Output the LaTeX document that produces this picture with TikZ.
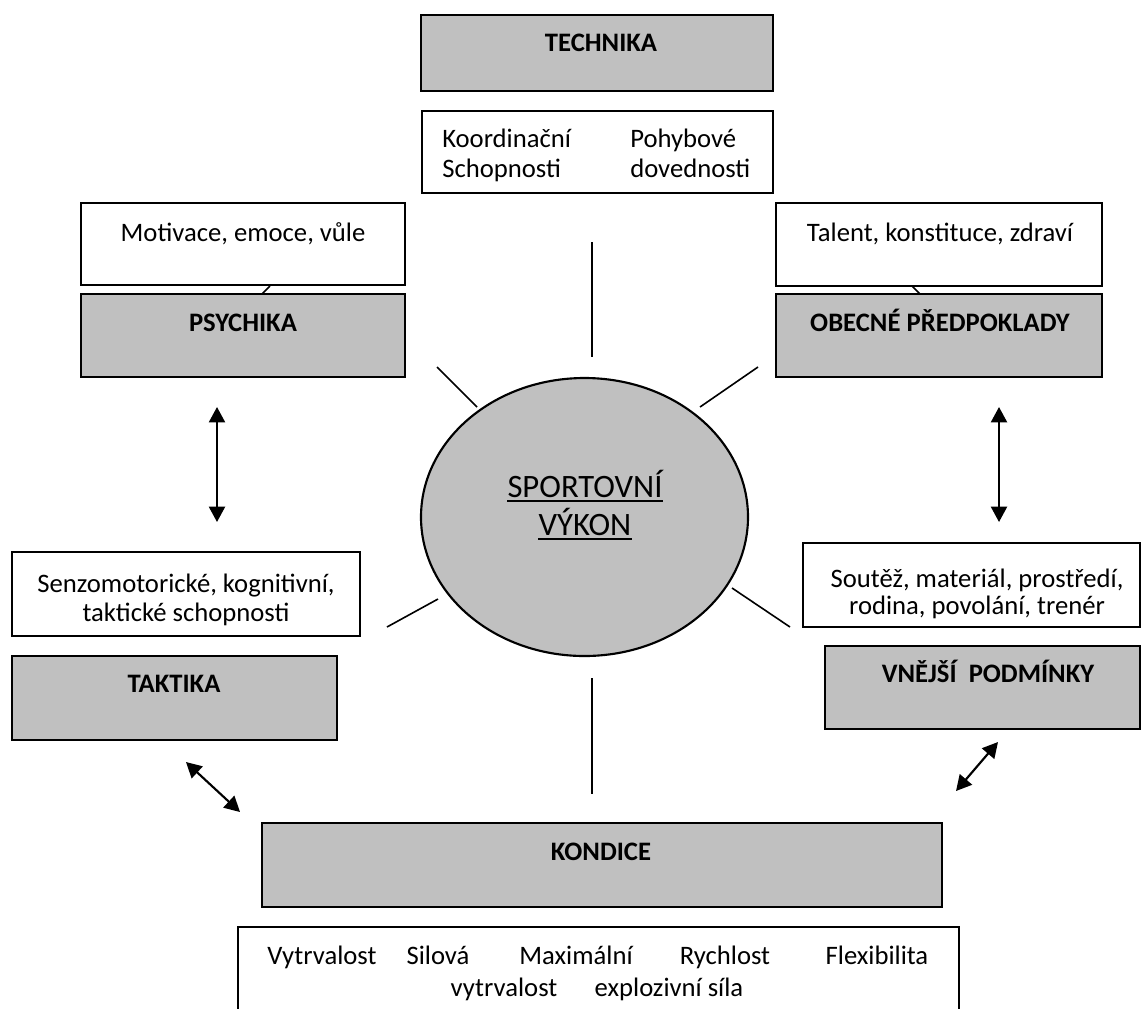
\documentclass[tikz,border=0pt]{standalone}
\usepackage{fontspec}
\setmainfont{Carlito}
\usetikzlibrary{arrows.meta,fit,shapes.geometric}
\definecolor{boxgray}{HTML}{C0C0C0}
\begin{document}
\begin{tikzpicture}[x=0.75pt,y=-0.75pt,
  graybox/.style={draw=black, line width=0.9pt, fill=boxgray, rectangle, inner sep=0pt},
  whitebox/.style={draw=black, line width=0.9pt, fill=white, rectangle, inner sep=0pt},
  txt/.style={inner sep=0pt, font=\fontsize{20}{24}\selectfont},
  head/.style={inner sep=0pt, font=\fontsize{20}{24}\selectfont\bfseries},
  ray/.style={line width=1.2pt},
  dblarrow/.style={line width=1.6pt, {Triangle[length=11.5pt,width=12pt]}-{Triangle[length=11.5pt,width=12pt]}}
]
\useasboundingbox (0,0) rectangle (1141,1008);

% ---- boxes ----
\node[graybox, fit={(421,15) (773,91)}] (techn) {};
\node[whitebox, fit={(422,111) (773,193)}] (koord) {};
\node[whitebox, fit={(81,203) (405,285)}] (motiv) {};
\node[graybox, fit={(81,294) (405,377)}] (psych) {};
\node[whitebox, fit={(776,203) (1102,286)}] (talent) {};
\node[graybox, fit={(776,294) (1102,377)}] (obecne) {};
\node[whitebox, fit={(12,552) (360,636)}] (senzo) {};
\node[graybox, fit={(12,656) (337,740)}] (takt) {};
\node[whitebox, fit={(803,543) (1140,627)}] (soutez) {};
\node[graybox, fit={(825,646) (1140,729)}] (vnejsi) {};
\node[graybox, fit={(262,823) (942,907)}] (kond) {};
\node[whitebox, fit={(238,927) (959,1020)}] (kondtxt) {};

% ---- centre ----
\node[draw=black, line width=1.6pt, fill=boxgray, ellipse, inner sep=0pt,
      minimum width=327*0.75pt, minimum height=278*0.75pt] (perf) at (584.5,517) {};
\node[inner sep=0pt, anchor=base, font=\fontsize{24.5}{28}\selectfont] (sp1) at (585,497) {SPORTOVNÍ};
\node[inner sep=0pt, anchor=base, font=\fontsize{24.5}{28}\selectfont] (sp2) at (585,535) {VÝKON};
\draw[line width=1.3pt] ([yshift=-3.2pt]sp1.base west) -- ([yshift=-3.2pt]sp1.base east);
\draw[line width=1.3pt] ([yshift=-3.2pt]sp2.base west) -- ([yshift=-3.2pt]sp2.base east);

% ---- texts ----
\node[head, anchor=base] (technt) at (601,51) {TECHNIKA};
\node[txt, anchor=base west] (k1) at (442,147) {Koordinační};
\node[txt, anchor=base west] (k2) at (442,177) {Schopnosti};
\node[txt, anchor=base west] (k3) at (630,147) {Pohybové};
\node[txt, anchor=base west] (k4) at (630,177) {dovednosti};
\node[txt, anchor=base] (motivt) at (243,241) {Motivace, emoce, vůle};
\node[head, anchor=base] (psycht) at (243,331) {PSYCHIKA};
\node[txt, anchor=base] (talentt) at (940,241) {Talent, konstituce, zdraví};
\node[head, anchor=base] (obecnet) at (940,331) {OBECNÉ PŘEDPOKLADY};
\node[txt, anchor=base] (s1) at (186,592) {Senzomotorické, kognitivní,};
\node[txt, anchor=base] (s2) at (186,621) {taktické schopnosti};
\node[head, anchor=base] (taktt) at (174,692) {TAKTIKA};
\node[txt, anchor=base] (o1) at (977,587) {Soutěž, materiál, prostředí,};
\node[txt, anchor=base] (o2) at (977,614) {rodina, povolání, trenér};
\node[head, anchor=base] (vnejsit) at (988,682) {VNĚJŠÍ\ \ PODMÍNKY};
\node[head, anchor=base] (kondt) at (601,860) {KONDICE};
\node[txt, anchor=base] (w1) at (322,964) {Vytrvalost};
\node[txt, anchor=base] (w2) at (438,964) {Silová};
\node[txt, anchor=base] (w3) at (576,964) {Maximální};
\node[txt, anchor=base] (w4) at (725,964) {Rychlost};
\node[txt, anchor=base] (w5) at (877,964) {Flexibilita};
\node[txt, anchor=base] (w6) at (504,996) {vytrvalost};
\node[txt, anchor=base] (w7) at (669,996) {explozivní síla};

% ---- rays ----
\coordinate (rt1) at (592,242); \coordinate (rt2) at (592,357);
\coordinate (rul1) at (437,367); \coordinate (rul2) at (477,407);
\coordinate (rur1) at (758,367); \coordinate (rur2) at (700,407);
\coordinate (rll1) at (387,627); \coordinate (rll2) at (438,599);
\coordinate (rlr1) at (790,627); \coordinate (rlr2) at (732,588);
\coordinate (rb1) at (592,678); \coordinate (rb2) at (592,794);
\draw[ray] (rt1) -- (rt2);
\draw[ray] (rul1) -- (rul2);
\draw[ray] (rur1) -- (rur2);
\draw[ray] (rll1) -- (rll2);
\draw[ray] (rlr1) -- (rlr2);
\draw[ray] (rb1) -- (rb2);
\draw[ray] (262,294) -- (270,286);
\draw[ray] (920,294) -- (912,286);

% ---- arrows ----
\coordinate (al1) at (217,407); \coordinate (al2) at (217,522);
\coordinate (ar1) at (999,407); \coordinate (ar2) at (999,522);
\coordinate (adl1) at (186,762); \coordinate (adl2) at (240,812);
\coordinate (adr1) at (998,742); \coordinate (adr2) at (956,791);
\draw[dblarrow] (al1) -- (al2);
\draw[dblarrow] (ar1) -- (ar2);
\draw[dblarrow] (adl1) -- (adl2);
\draw[dblarrow] (adr1) -- (adr2);
\end{tikzpicture}
\end{document}
